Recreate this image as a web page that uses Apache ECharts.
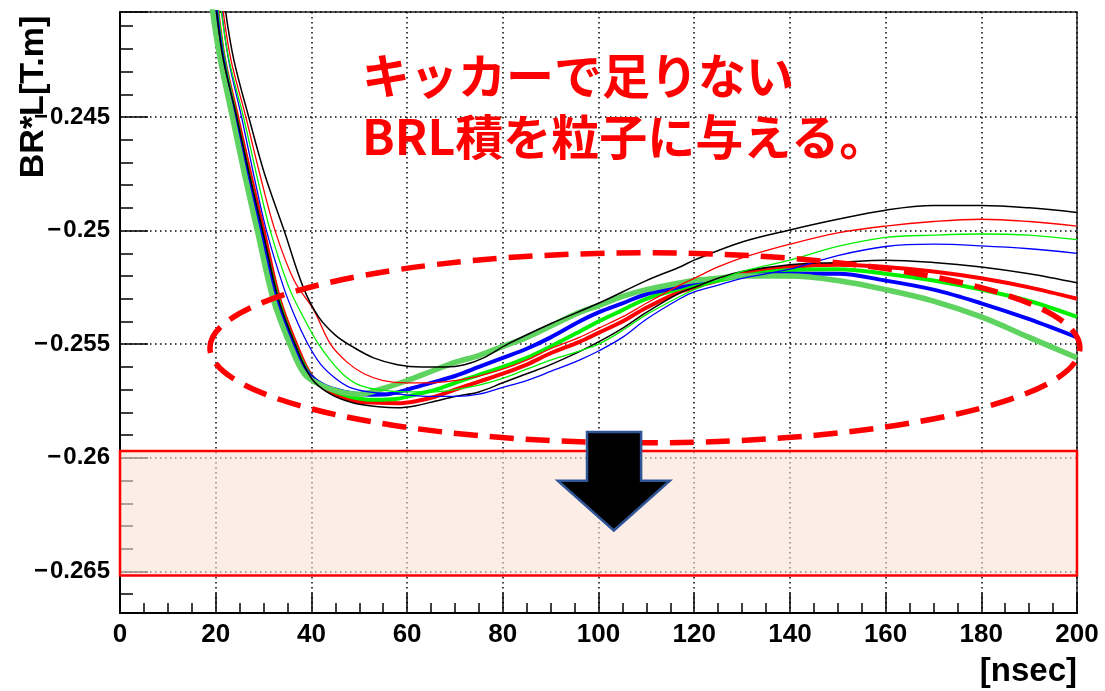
<!DOCTYPE html>
<html>
<head>
<meta charset="utf-8">
<script src="https://cdn.jsdelivr.net/npm/echarts@6/dist/echarts.min.js"></script>
<style>
  html, body { margin: 0; padding: 0; background: #fff; }
  #chart { width: 1105px; height: 691px; }
</style>
</head>
<body>
<div id="chart"></div>
<script>
// BR*L [T.m] versus time [nsec] for the kicker field, several configurations.
// Each curve is a list of [time (nsec), BR*L (T.m)] points.

const blackUpper = [
  [21.5,-0.2390],[22.1,-0.2404],[23.8,-0.2425],[26.9,-0.2450],[30.2,-0.2475],[34.3,-0.2500],
  [38.3,-0.2525],[41.5,-0.2538],[45,-0.2546],[48.5,-0.2551],[53,-0.2556],[58,-0.2559],[63,-0.2560],
  [68,-0.2560],[72,-0.2559],[76,-0.2556],[81,-0.2550],[90,-0.2541],[100,-0.2532],[110,-0.2522],
  [117,-0.2516],[120,-0.2513],[130,-0.2505],[140,-0.24997],[150,-0.2495],[160,-0.2491],
  [170,-0.2489],[180,-0.2489],[190,-0.2490],[200,-0.2492]
];
const redUpper = [
  [21.1,-0.2390],[21.6,-0.2404],[23.2,-0.2425],[26.3,-0.2450],[29.2,-0.2475],[32.4,-0.2500],
  [36.4,-0.2522],[40.5,-0.2535],[44,-0.2550],[47.5,-0.2558],[51,-0.2563],[55,-0.2566],[60,-0.2567],
  [65,-0.2567],[70,-0.2566],[75,-0.2564],[80,-0.2561],[85,-0.2557],[90,-0.2552],[96,-0.2547],
  [100,-0.2543],[105,-0.2538],[110,-0.2532],[117,-0.2524],[120,-0.2521],[125,-0.2516],
  [130,-0.2512],[140,-0.2506],[150,-0.2501],[160,-0.2498],[170,-0.2496],[180,-0.2495],
  [190,-0.2496],[200,-0.2498]
];
const greenUpper = [
  [20.7,-0.2390],[21.2,-0.2404],[22.8,-0.2425],[25.8,-0.2450],[28.5,-0.2475],[31.4,-0.2500],
  [35.3,-0.2525],[38.3,-0.2538],[41.5,-0.2550],[44.3,-0.2558],[47,-0.2564],[50,-0.2568],[54,-0.2570],
  [60,-0.2571],[65,-0.2571],[70,-0.2570],[75,-0.2568],[80,-0.2565],[85,-0.2561],[90,-0.2557],
  [96,-0.2553],[100,-0.2550],[105,-0.2544],[110,-0.2537],[117,-0.2529],[120,-0.2526],
  [125,-0.2522],[130,-0.2518],[140,-0.2513],[150,-0.2507],[160,-0.2503],[170,-0.2502],
  [180,-0.25015],[190,-0.2502],[200,-0.2504]
];
const blueUpper = [
  [20.8,-0.2390],[21.3,-0.2404],[22.7,-0.2425],[25.4,-0.2450],[27.9,-0.2475],[30.6,-0.2500],
  [34.2,-0.2525],[36.6,-0.2538],[39.3,-0.2550],[42,-0.2559],[45,-0.2565],[48,-0.2569],[52,-0.2571],
  [58,-0.2572],[65,-0.2573],[70,-0.2573],[75,-0.2572],[80,-0.2569],[85,-0.2566],[90,-0.2562],
  [96,-0.2557],[100,-0.2553],[105,-0.2547],[110,-0.2539],[117,-0.2530],[120,-0.2527],
  [125,-0.2524],[130,-0.2521],[140,-0.2517],[150,-0.2511],[160,-0.2507],[170,-0.2506],
  [180,-0.25067],[190,-0.2508],[200,-0.2510]
];
const blackLower = [
  [19.7,-0.2390],[20.2,-0.2404],[21.6,-0.2425],[24.4,-0.2450],[27.0,-0.2475],[29.8,-0.2500],
  [33.1,-0.2530],[36.6,-0.2550],[40,-0.2565],[44,-0.2572],[49,-0.2576],[54,-0.25775],[58,-0.2578],
  [62,-0.2577],[66,-0.2575],[70,-0.2573],[75,-0.2571],[80,-0.2567],[85,-0.2563],[90,-0.2559],
  [96,-0.25533],[100,-0.2549],[105,-0.2543],[110,-0.2536],[117,-0.25274],[120,-0.2525],
  [125,-0.2521],[130,-0.2518],[140,-0.2515],[150,-0.2514],[160,-0.2513],[170,-0.2514],
  [180,-0.2516],[190,-0.2519],[200,-0.2523]
];
const redThick = [
  [19.9,-0.2390],[20.4,-0.2404],[21.8,-0.2425],[24.5,-0.2450],[27.2,-0.2475],[30,-0.2500],
  [33.3,-0.2530],[36.8,-0.2550],[40,-0.2564],[44,-0.2571],[49,-0.2575],[54,-0.25758],[58,-0.2576],
  [62,-0.2575],[66,-0.2573],[70,-0.2570],[75,-0.25665],[80,-0.2563],[85,-0.2559],[90,-0.2554],
  [96,-0.2549],[100,-0.2545],[105,-0.2540],[110,-0.2534],[117,-0.2527],[120,-0.2525],
  [125,-0.2522],[130,-0.2519],[140,-0.2516],[150,-0.2515],[160,-0.2516],[170,-0.2518],
  [180,-0.2521],[190,-0.2525],[200,-0.2530]
];
const greenThick = [
  [19.8,-0.2390],[20.3,-0.2404],[21.7,-0.2425],[24.2,-0.2450],[26.8,-0.2475],[29.5,-0.2500],
  [33,-0.2530],[36.4,-0.2550],[39.5,-0.2563],[43,-0.2569],[48,-0.2573],[53,-0.25745],[58,-0.2574],
  [62,-0.2572],[66,-0.2570],[70,-0.2567],[75,-0.25635],[80,-0.2560],[85,-0.2556],[90,-0.2551],
  [96,-0.25445],[100,-0.2540],[105,-0.2535],[110,-0.2530],[117,-0.25256],[120,-0.2524],
  [125,-0.2522],[130,-0.2520],[140,-0.25173],[150,-0.2517],[160,-0.2519],[170,-0.2522],
  [180,-0.2526],[190,-0.2531],[200,-0.2538]
];
const blueThick = [
  [19.6,-0.2390],[20.1,-0.2404],[21.5,-0.2425],[24.0,-0.2450],[26.6,-0.2475],[29.3,-0.2500],
  [32.7,-0.2530],[36.1,-0.2550],[39,-0.2562],[42.5,-0.2568],[47,-0.2571],[52,-0.25722],[56,-0.2572],
  [60,-0.2570],[65,-0.2567],[70,-0.2564],[75,-0.2560],[80,-0.2556],[85,-0.2552],[90,-0.2547],
  [96,-0.2540],[100,-0.2536],[105,-0.2532],[110,-0.2528],[117,-0.25248],[120,-0.2523],
  [125,-0.2521],[130,-0.2520],[140,-0.2519],[150,-0.2519],[160,-0.2522],[170,-0.2526],
  [180,-0.2532],[190,-0.2539],[200,-0.2547]
];
const paleGreenThick = [
  [19.0,-0.2390],[19.4,-0.2404],[21,-0.2425],[23.5,-0.2450],[26,-0.2475],[28.7,-0.2500],
  [32,-0.2530],[35.5,-0.2550],[38.5,-0.2563],[42,-0.2568],[46,-0.2571],[50,-0.2572],[55,-0.25695],
  [60,-0.2566],[65,-0.2562],[70,-0.2558],[75,-0.2555],[80,-0.2551],[85,-0.2547],[90,-0.2542],
  [96,-0.2536],[100,-0.2533],[105,-0.2529],[110,-0.2526],[117,-0.2523],[120,-0.2522],
  [125,-0.2521],[130,-0.2520],[140,-0.2520],[150,-0.2522],[160,-0.2526],[170,-0.2531],
  [180,-0.2538],[190,-0.2547],[200,-0.2556]
];

// Axis ranges and tick steps
const xRange = [0, 200];
const xStep = 20;
const yRange = [-0.26683, -0.24038];
const yStep = 0.005;

// Target band for the kick (lower/upper BR*L over the full time range)
const bandX = [0, 200];
const bandY = [-0.26518, -0.2597];

// Highlight ellipse around the flat part of the curves: centre and half-widths
const ringCentre = [109.7, -0.25516];
const ringHalf = [90.9, 0.00418];

// Downward arrow outline, [nsec, T.m]
const arrowOutline = [
  [97.6, -0.25886], [108.9, -0.25886], [108.9, -0.26101], [114.9, -0.26101],
  [103.2, -0.26320], [91.5, -0.26101], [97.6, -0.26101]
];

const noteText = 'キッカーで足りない\nBRL積を粒子に与える。';
const yTitle = 'BR*L[T.m]';
const xTitle = '[nsec]';

const latin = '"Liberation Sans", Arial, Helvetica, sans-serif';
const cjk = '"Noto Sans CJK JP", "Noto Sans", sans-serif';

function fmtY(v) {
  const r = Math.round(v / yStep) * yStep;
  if (Math.abs(r - v) > 1e-7) return '';
  return '\u2212\u200a' + parseFloat(Math.abs(v).toFixed(4));
}

function curve(name, data, color, width, z) {
  return {
    name, type: 'line', data, z,
    showSymbol: false, symbol: 'none',
    smooth: 0.35,
    lineStyle: { color, width, join: 'round' },
    silent: true, animation: false
  };
}

const chart = echarts.init(document.getElementById('chart'), null, { renderer: 'canvas' });

const series = [
  curve('red thick', redThick, '#ff0000', 4, 3),
  curve('green thick', greenThick, '#00f000', 4, 3),
  curve('blue thick', blueThick, '#0000ff', 4, 3),
  curve('pale green thick', paleGreenThick, '#5fd35f', 5.5, 3),
  curve('black lower', blackLower, '#000000', 1.5, 4),
  curve('blue upper', blueUpper, '#0000ff', 1.3, 4),
  curve('green upper', greenUpper, '#00f000', 1.3, 4),
  curve('red upper', redUpper, '#ff0000', 1.3, 4),
  curve('black upper', blackUpper, '#000000', 1.5, 4)
];
series[0].markArea = {
  silent: true,
  itemStyle: { color: 'rgba(250,227,213,0.6)', borderColor: '#ff0000', borderWidth: 2.5 },
  data: [[{ xAxis: bandX[0], yAxis: bandY[1] }, { xAxis: bandX[1], yAxis: bandY[0] }]]
};

const gridDots = { color: '#000', width: 1.5, type: [1.5, 3.5] };

chart.setOption({
  animation: false,
  backgroundColor: '#ffffff',
  grid: {
    left: 120, top: 12, right: 28, bottom: 78,
    show: true, borderColor: '#222', borderWidth: 1.5, backgroundColor: 'transparent'
  },
  xAxis: {
    type: 'value', min: xRange[0], max: xRange[1], interval: xStep,
    axisLine: { onZero: false, lineStyle: { color: '#000', width: 2 } },
    axisTick: { inside: true, length: 20, lineStyle: { color: '#000', width: 1.5 } },
    minorTick: { show: true, splitNumber: 4, length: 10, lineStyle: { color: '#000', width: 1.5 } },
    axisLabel: { margin: 9, color: '#000', fontSize: 26, fontWeight: 'bold', fontFamily: latin },
    splitLine: { show: true, lineStyle: gridDots }
  },
  yAxis: {
    type: 'value', min: yRange[0], max: yRange[1], minInterval: yStep, maxInterval: yStep,
    axisLine: { onZero: false, lineStyle: { color: '#000', width: 2 } },
    axisTick: { inside: true, length: 28, lineStyle: { color: '#000', width: 1.5 } },
    minorTick: { show: true, splitNumber: 5, length: 13, lineStyle: { color: '#000', width: 1.5 } },
    axisLabel: {
      margin: 10, color: '#000', fontSize: 24, fontWeight: 'bold', fontFamily: latin,
      showMinLabel: false, showMaxLabel: false, formatter: fmtY
    },
    splitLine: { show: true, lineStyle: gridDots }
  },
  series
});

// Annotations placed through the grid's coordinate system
function px(p) { return chart.convertToPixel({ gridIndex: 0 }, p); }

const c = px(ringCentre);
const rxPx = px([ringCentre[0] + ringHalf[0], ringCentre[1]])[0] - c[0];
const ryPx = c[1] - px([ringCentre[0], ringCentre[1] + ringHalf[1]])[1];
const arrowPts = arrowOutline.map(px);
const gridTop = px([xRange[0], yRange[1]])[1];
const gridLeft = px([xRange[0], yRange[1]])[0];
const gridRight = px([xRange[1], yRange[0]])[0];
const gridBottom = px([xRange[1], yRange[0]])[1];

chart.setOption({
  graphic: [
    {
      type: 'ellipse', z: 50, silent: true,
      shape: { cx: c[0], cy: c[1], rx: rxPx, ry: ryPx },
      style: { fill: null, stroke: '#ff0000', lineWidth: 5.5, lineDash: [24, 12] }
    },
    {
      type: 'polygon', z: 60, silent: true,
      shape: { points: arrowPts },
      style: { fill: '#000000', stroke: '#2f5597', lineWidth: 2.5, lineJoin: 'miter' }
    },
    {
      type: 'text', z: 70, silent: true,
      x: gridLeft + 242, y: gridTop + 33,
      style: {
        text: noteText, fill: '#ff0000', fontFamily: cjk, fontWeight: 'bold',
        fontSize: 48, lineHeight: 61
      }
    },
    {
      type: 'text', z: 70, silent: true,
      x: gridLeft - 86, y: gridTop + 85, rotation: Math.PI / 2,
      style: {
        text: yTitle, fill: '#000', fontFamily: latin, fontWeight: 'bold', fontSize: 34,
        align: 'center', verticalAlign: 'middle'
      }
    },
    {
      type: 'text', z: 70, silent: true,
      x: gridRight, y: gridBottom + 59,
      style: {
        text: xTitle, fill: '#000', fontFamily: latin, fontWeight: 'bold', fontSize: 33,
        align: 'right', verticalAlign: 'middle'
      }
    }
  ]
});
</script>
</body>
</html>
